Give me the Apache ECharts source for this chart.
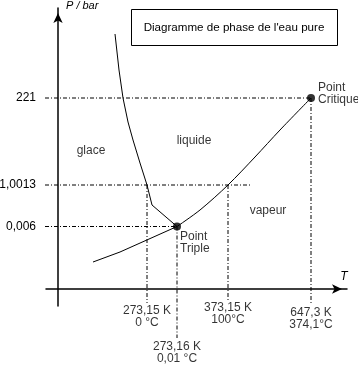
<!DOCTYPE html>
<html><head><meta charset="utf-8">
<script src="https://cdn.jsdelivr.net/npm/echarts@6/dist/echarts.min.js"></script>
<style>html,body{margin:0;padding:0;background:#fff}#c{width:358px;height:365px}</style>
</head><body><div id="c"></div>
<script>
// Schematic (not to scale) diagram coordinates
const tempPos = [89, 119, 170, 253];
const tempK = ['273,15 K', '273,16 K', '373,15 K', '647,3 K'];
const tempC = ['0 °C', '0,01 °C', '100°C', '374,1°C'];
const presPos = [62.5, 104, 191];
const presLabels = ['0,006', '1,0013', '221'];
const meltingCurve = [[57,255],[61,219],[65,191],[70,167],[75,149],[82,126],[89,104],[94,84],[119,62.5]];
const sublimationCurve = [[35,27],[62,37],[119,62.5]];
const vaporizationCurve = [[119,62.5],[142,79],[170,104],[197,132],[222,159],[253,191]];
const triplePoint = [119, 62.5];
const criticalPoint = [253, 191];
const phaseNames = ['glace', 'liquide', 'vapeur'];
const phasePos = [[33,138],[136,148],[210,78]];
// reference line extents
const hLineEnd = [119, 193, 253];
const vLineStart = [104, 62.5, 104, 191];
const vLineEnd = [-14, -49, -11, -16];

const FONT = "'Liberation Sans', Arial, Helvetica, sans-serif";
const DASH = [4, 2, 1, 2];
const labelGap = [15, 51, 12, 17];

const series = [];
presPos.forEach((p, i) => {
  series.push({type:'line', data:[[-13, p],[hLineEnd[i], p]], symbol:'none', clip:false, silent:true,
    lineStyle:{color:'#000', width:1, type:DASH}, z:2});
});
tempPos.forEach((t, i) => {
  series.push({type:'line', data:[[t, vLineStart[i]],[t, vLineEnd[i]]], symbol:'none', clip:false, silent:true,
    lineStyle:{color:'#000', width:1, type:DASH}, z:2});
});
series.push({type:'line', data:meltingCurve, symbol:'none', clip:false, lineStyle:{color:'#000', width:1}, z:3});
series.push({type:'line', data:sublimationCurve, symbol:'none', clip:false, lineStyle:{color:'#000', width:1}, z:3});
series.push({type:'line', data:vaporizationCurve, symbol:'none', smooth:0.3, clip:false, lineStyle:{color:'#000', width:1}, z:3});
series.push({type:'scatter', clip:false, symbolSize:8, itemStyle:{color:'#000'}, z:5,
  data:[
    {value:triplePoint, label:{show:true, formatter:'Point\nTriple', position:'inside', align:'left', verticalAlign:'top', offset:[3,4]}},
    {value:criticalPoint, label:{show:true, formatter:'Point\nCritique', position:'inside', align:'left', verticalAlign:'top', offset:[7,-16]}}
  ],
  label:{color:'#000', fontSize:12, lineHeight:12, fontFamily:FONT}
});
series.push({type:'scatter', clip:false, symbolSize:1, itemStyle:{color:'rgba(0,0,0,0)'}, z:4,
  data: phaseNames.map((n, i) => ({value:phasePos[i], name:n})),
  label:{show:true, position:'inside', formatter:'{b}', color:'#000', fontSize:12, fontFamily:FONT}
});
series.push({type:'scatter', clip:false, symbolSize:1, itemStyle:{color:'rgba(0,0,0,0)'}, z:4,
  data: tempPos.map((t, i) => ({value:[t, 0], name:tempK[i] + '\n' + tempC[i], label:{distance:labelGap[i]}})),
  label:{show:true, position:'bottom', formatter:'{b}', align:'center', color:'#000', fontSize:12, lineHeight:12, fontFamily:FONT}
});

const chart = echarts.init(document.getElementById('c'), null, {renderer:'canvas'});
chart.setOption({
  backgroundColor:'#fff',
  animation:false,
  grid:{left:46, right:11, top:8, bottom:59, containLabel:false, outerBoundsMode:'none'},
  xAxis:{type:'value', min:-12, max:289,
    axisLine:{onZero:true, symbol:['none','arrow'], symbolSize:[7,10], symbolOffset:[0,-5], lineStyle:{color:'#000', width:1.5}},
    axisTick:{show:false}, splitLine:{show:false}, axisLabel:{show:false},
    name:'T', nameLocation:'end', nameGap:-3,
    nameTextStyle:{color:'#000', fontSize:12, fontStyle:'italic', fontFamily:FONT, align:'center', verticalAlign:'bottom', padding:[0,0,6,0]}
  },
  yAxis:{type:'value', min:-17, max:281,
    axisLine:{onZero:true, symbol:['none','arrow'], symbolSize:[7,10], symbolOffset:[0,-5], lineStyle:{color:'#000', width:1.5}},
    axisTick:{show:false}, splitLine:{show:false},
    axisLabel:{customValues:presPos, formatter:v => presLabels[presPos.indexOf(v)], margin:10, color:'#000', fontSize:12, fontFamily:FONT},
    name:'P / bar', nameLocation:'end', nameGap:2,
    nameTextStyle:{color:'#000', fontSize:11, fontStyle:'italic', fontFamily:FONT, align:'left', verticalAlign:'middle', padding:[0,0,0,8]}
  },
  graphic:[
    {type:'rect', shape:{x:131.5, y:9.5, width:206, height:36}, style:{fill:'#fff', stroke:'#000', lineWidth:1}, z:10},
    {type:'text', x:234, y:27.5, style:{text:"Diagramme de phase de l'eau pure", fill:'#000', font:"11.6px " + FONT, textAlign:'center', textVerticalAlign:'middle'}, z:11}
  ],
  series
});
</script></body></html>
